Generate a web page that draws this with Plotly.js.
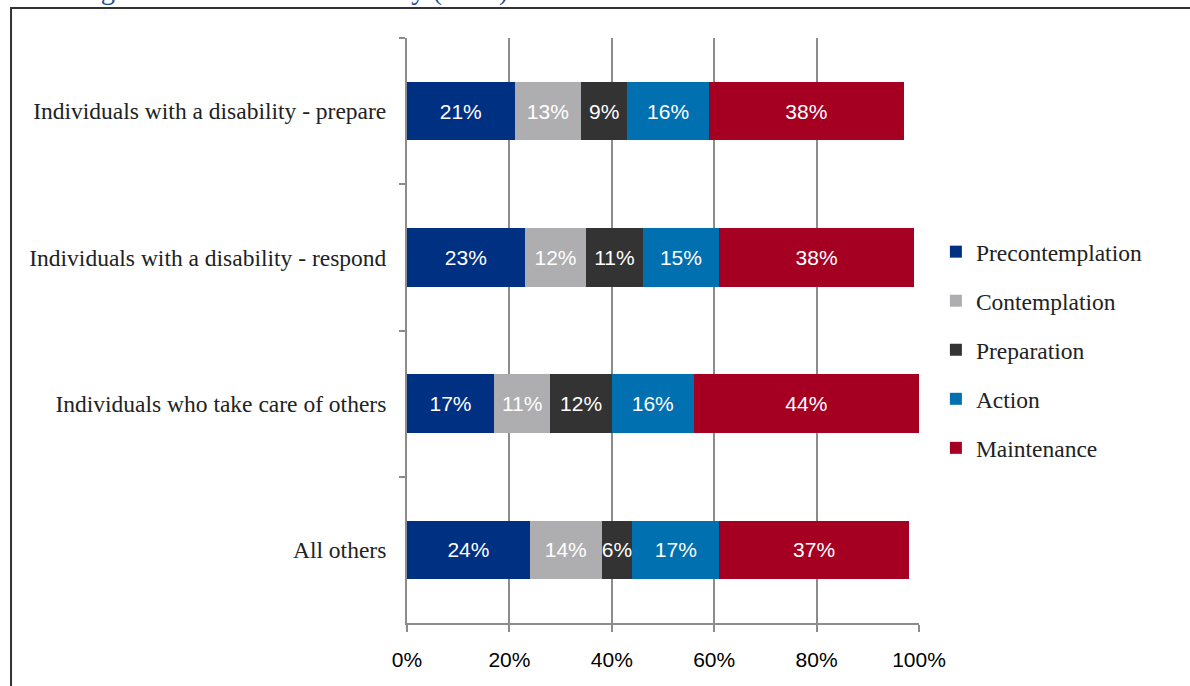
<!DOCTYPE html>
<html>
<head>
<meta charset="utf-8">
<script src="https://cdn.plot.ly/plotly-3.0.1.min.js"></script>
<style>html,body{margin:0;padding:0;background:#fff;}#chart{width:1190px;height:686px;}</style>
</head>
<body>
<div id="chart"></div>
<script>
const categories = [
  "Individuals with a disability - prepare",
  "Individuals with a disability - respond",
  "Individuals who take care of others",
  "All others"
];
const stages = ["Precontemplation", "Contemplation", "Preparation", "Action", "Maintenance"];
const precontemplation = [21, 23, 17, 24];
const contemplation = [13, 12, 11, 14];
const preparation = [9, 11, 12, 6];
const action = [16, 15, 16, 17];
const maintenance = [38, 38, 44, 37];
const seriesValues = [precontemplation, contemplation, preparation, action, maintenance];
const colors = ["#003082", "#AEAEB0", "#333333", "#0070B0", "#A50021"];
const xTickVals = [0, 20, 40, 60, 80, 100];
const xTickText = ["0%", "20%", "40%", "60%", "80%", "100%"];
const titleText = "Assisting Someone with a Disability (2014)";

const traces = stages.map((name, i) => ({
  type: "bar",
  orientation: "h",
  name: name,
  legendgroup: name,
  y: categories,
  x: seriesValues[i],
  text: seriesValues[i].map(v => v + "%"),
  textposition: "inside",
  insidetextanchor: "middle",
  textangle: 0,
  constraintext: "none",
  textfont: {family: "Liberation Sans, Arial, sans-serif", size: 21, color: "#ffffff"},
  marker: {color: colors[i], line: {width: 0}},
  hoverinfo: "name+x"
}));

const layout = {
  width: 1190,
  height: 686,
  margin: {l: 407, r: 271, t: 38, b: 63},
  paper_bgcolor: "#ffffff",
  plot_bgcolor: "#ffffff",
  barmode: "stack",
  bargap: 0.6,
  showlegend: true,
  legend: {
    x: 1.033, xanchor: "left",
    y: 0.672, yanchor: "top",
    traceorder: "grouped",
    tracegroupgap: 15.5,
    font: {family: "Liberation Serif, serif", size: 23.5, color: "#222222"},
    itemwidth: 30,
    bgcolor: "rgba(0,0,0,0)"
  },
  xaxis: {
    range: [0, 100],
    tickvals: xTickVals,
    ticktext: xTickText,
    showgrid: true,
    gridcolor: "#8c8c8c",
    gridwidth: 2,
    zeroline: false,
    showline: true,
    linecolor: "#8c8c8c",
    linewidth: 2,
    ticks: "outside",
    ticklen: 7,
    tickwidth: 2,
    tickcolor: "#8c8c8c",
    ticklabelstandoff: 10,
    tickfont: {family: "Liberation Sans, Arial, sans-serif", size: 21, color: "#000000"},
    fixedrange: true
  },
  yaxis: {
    type: "category",
    categoryorder: "array",
    categoryarray: categories,
    autorange: "reversed",
    tickson: "boundaries",
    ticks: "outside",
    ticklen: 6,
    tickwidth: 2,
    tickcolor: "#8c8c8c",
    showgrid: false,
    showline: true,
    linecolor: "#8c8c8c",
    linewidth: 2,
    ticklabelstandoff: 14,
    tickfont: {family: "Liberation Serif, serif", size: 23.5, color: "#222222"},
    fixedrange: true
  },
  annotations: [{
    text: titleText,
    xref: "paper", yref: "paper",
    x: -0.781, xanchor: "left",
    y: 1.0505, yanchor: "bottom",
    showarrow: false,
    font: {family: "Liberation Serif, serif", size: 28.5, color: "#1F4E8C"}
  }],
  shapes: [{
    type: "rect",
    xref: "paper", yref: "paper",
    x0: -0.7734, x1: 1.56,
    y0: -0.2, y1: 1.0513,
    line: {color: "#333333", width: 2},
    fillcolor: "rgba(0,0,0,0)",
    layer: "below"
  }]
};

Plotly.newPlot("chart", traces, layout, {displayModeBar: false, staticPlot: true});
</script>
</body>
</html>
